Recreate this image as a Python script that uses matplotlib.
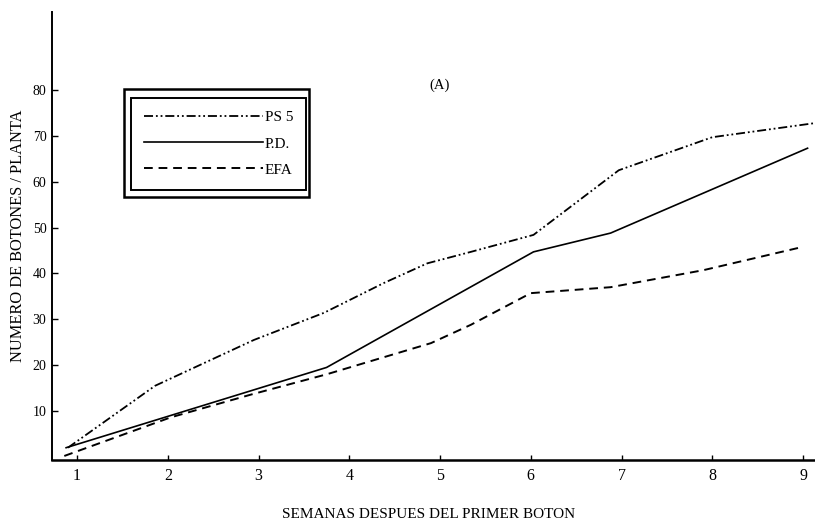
import matplotlib
matplotlib.use('Agg')
import matplotlib.pyplot as plt
from matplotlib.patches import Rectangle

plt.rcParams['font.family'] = ['Liberation Serif', 'DejaVu Serif']

# Numero de botones por planta segun las semanas despues del primer boton
semanas_ps5 = [0.9, 1.86, 2.95, 3.72, 4.38, 4.86, 5.34, 6.03, 6.97, 8.0, 9.14]
ps5 = [2.0, 15.5, 25.5, 31.4, 37.9, 42.2, 44.7, 48.4, 62.5, 69.7, 72.8]

semanas_pd = [0.88, 3.75, 6.03, 6.88, 9.05]
pd_ = [2.0, 19.5, 44.7, 48.8, 67.3]

semanas_efa = [0.86, 2.03, 2.92, 3.75, 4.46, 4.9, 5.34, 6.0, 6.88, 7.9, 9.0]
efa = [0.2, 8.6, 13.6, 18.0, 22.2, 24.8, 28.8, 35.7, 37.0, 40.7, 45.8]

x_ticks = [1, 2, 3, 4, 5, 6, 7, 8, 9]
y_ticks = [10, 20, 30, 40, 50, 60, 70, 80]

fig = plt.figure(figsize=(8.15, 5.24), dpi=100)
ax = fig.add_axes([52/815, 64/524, 763/815, 448/524])

ax.plot(semanas_ps5, ps5, color='black', lw=1.3,
        linestyle=(0, (5, 1.6, 1, 1.6, 1, 1.6)), label='PS 5')
ax.plot(semanas_pd, pd_, color='black', lw=1.2, label='P.D.')
ax.plot(semanas_efa, efa, color='black', lw=1.4,
        linestyle=(0, (4.5, 3)), label='EFA')

ax.set_xlim(0.7245, 9.132)
ax.set_ylim(-0.68, 97.0)

ax.spines['top'].set_visible(False)
ax.spines['right'].set_visible(False)
ax.spines['left'].set_linewidth(1.4)
ax.spines['bottom'].set_linewidth(1.8)

ax.set_xticks(x_ticks)
ax.set_yticks(y_ticks)
ax.tick_params(axis='x', direction='in', length=3.5, width=1.0, pad=6,
               labelsize=11.5)
ax.tick_params(axis='y', direction='in', length=4, width=1.0, pad=4,
               labelsize=10)

ax.set_xlabel('SEMANAS DESPUES DEL PRIMER BOTON', fontsize=11)
ax.xaxis.set_label_coords(0.494, -0.108)
ax.set_ylabel('NUMERO DE BOTONES / PLANTA', fontsize=11.8)
ax.yaxis.set_label_coords(-0.034, 0.5)

ax.text(0.5085, 0.837, '(A)', transform=ax.transAxes, ha='center',
        va='center', fontsize=10.5)

# leyenda con marco doble
leg = ax.legend(loc='upper left', bbox_to_anchor=(0.1035, 0.8087),
                borderaxespad=0, fontsize=11, handlelength=7.8,
                handletextpad=0.1, borderpad=0.85, labelspacing=0.82,
                fancybox=False, framealpha=1, edgecolor='black')
leg.get_frame().set_linewidth(1.4)
ax.add_patch(Rectangle((0.0944, 0.586), 0.2424, 0.242, transform=ax.transAxes,
                       fill=False, lw=1.8, edgecolor='black', clip_on=False))

fig.savefig('out.png', dpi=100)
